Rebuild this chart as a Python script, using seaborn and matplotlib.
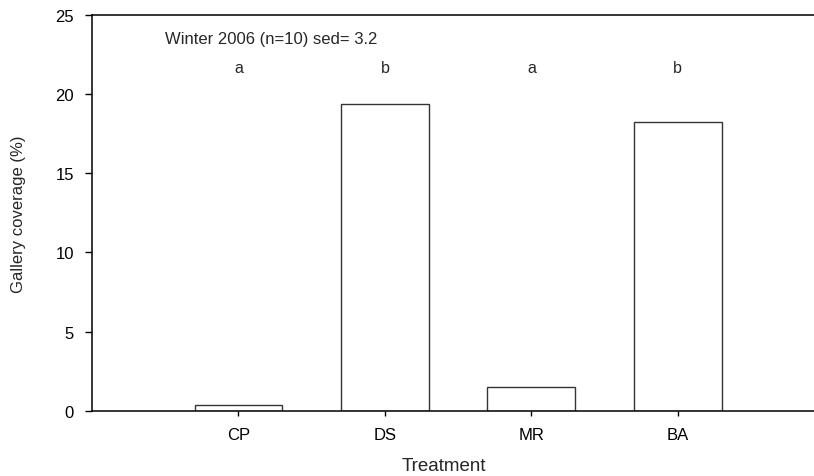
import matplotlib
matplotlib.use('Agg')
import matplotlib.pyplot as plt
import seaborn as sns

# data
treatments = ['CP', 'DS', 'MR', 'BA']
coverage = [0.4, 19.37, 1.5, 18.25]
letters = ['a', 'b', 'a', 'b']
note = 'Winter 2006 (n=10) sed= 3.2'

sns.set_style('ticks')
plt.rcParams['font.family'] = ['Liberation Sans', 'DejaVu Sans']

fig = plt.figure(figsize=(8.14, 4.77), dpi=100)
ax = fig.add_axes([92 / 814, 1 - 412 / 477, 1 - 92 / 814, (412 - 15.7) / 477])

sns.barplot(x=treatments, y=coverage, color='white', edgecolor='#333333',
            linewidth=1.0, width=0.6, ax=ax)

ax.set_xlim(-1.0, 3.93)
ax.set_ylim(0, 25)
ax.set_yticks([0, 5, 10, 15, 20, 25])

# significance letters above bars
for i, l in enumerate(letters):
    ax.text(i, 21.7, l, ha='center', va='center', fontsize=11.5)
ax.text(-0.5, 23.5, note, ha='left', va='center', fontsize=12)

for s in ['left', 'top', 'bottom']:
    ax.spines[s].set_visible(True)
    ax.spines[s].set_color('black')
    ax.spines[s].set_linewidth(1.1)
ax.spines['right'].set_visible(False)

ax.tick_params(axis='y', direction='out', length=5, width=1, pad=8, labelsize=12, colors='black')
ax.tick_params(axis='x', direction='out', length=3.8, width=1, pad=8, labelsize=12, colors='black')

ax.set_ylabel('Gallery coverage (%)', fontsize=12)
ax.set_xlabel('Treatment', fontsize=13.5)
ax.yaxis.set_label_coords(-0.092, 0.5)
ax.xaxis.set_label_coords(0.4875, -0.115)

fig.savefig('out.png', dpi=100)
